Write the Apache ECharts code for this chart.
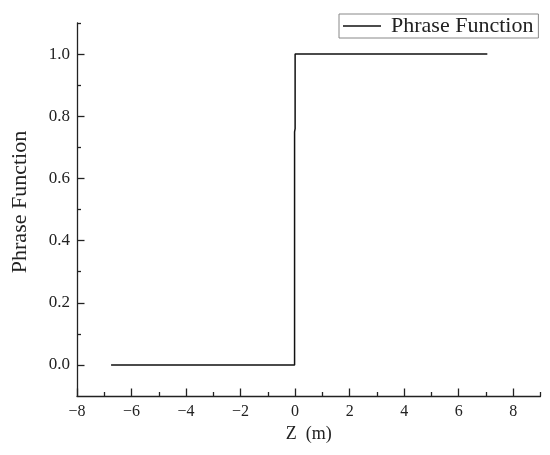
<!DOCTYPE html>
<html><head><meta charset="utf-8">
<script src="https://cdn.jsdelivr.net/npm/echarts@6/dist/echarts.min.js"></script>
<style>html,body{margin:0;padding:0;background:#fff}#c{width:550px;height:455px}</style>
</head><body><div id="c"></div>
<script>
// Data
const zValues = [-6.75, -0.02, -0.02, 0, 0, 7.05];
const phaseValues = [0, 0, 0.75, 0.76, 1, 1];
const seriesName = 'Phrase Function';
// Tick positions / labels
const xMajorTicks = [-8, -6, -4, -2, 0, 2, 4, 6, 8];
const xMinorTicks = [-7, -5, -3, -1, 1, 3, 5, 7, 9];
const yMajorTicks = [0, 0.2, 0.4, 0.6, 0.8, 1.0];
const yMinorTicks = [0.1, 0.3, 0.5, 0.7, 0.9, 1.1];

const chart = echarts.init(document.getElementById('c'));
const axisColor = '#222';
const txtColor = '#222';
const font = 'Liberation Serif';
const baseX = {type: 'value', min: -8, max: 9, position: 'bottom', splitLine: {show: false}};
const baseY = {type: 'value', min: -0.1, max: 1.1, position: 'left', splitLine: {show: false}};
chart.setOption({
  animation: false,
  backgroundColor: '#fff',
  grid: {left: 77, right: 9.5, top: 23, bottom: 59, containLabel: false},
  legend: {
    left: 339, top: 14,
    padding: [1, 5, 1, 4],
    borderColor: '#888', borderWidth: 1, borderRadius: 0,
    itemWidth: 38, itemHeight: 1.6, icon: 'rect',
    formatter: n => '{t|' + n + '}',
    textStyle: {fontFamily: font, fontSize: 22, color: txtColor,
      rich: {t: {fontFamily: font, fontSize: 22, color: txtColor, padding: [0, 0, 0, 5]}}},
    data: [seriesName]
  },
  xAxis: [
    Object.assign({}, baseX, {
      name: 'Z  (m)', nameLocation: 'middle', nameGap: 27,
      nameTextStyle: {fontFamily: font, fontSize: 18, color: txtColor},
      axisLine: {show: true, onZero: false, lineStyle: {color: axisColor, width: 1.3}},
      axisTick: {show: true, inside: true, length: 7.5, customValues: xMajorTicks, lineStyle: {color: axisColor, width: 1.3}},
      axisLabel: {show: true, margin: 8, customValues: xMajorTicks, fontFamily: font, fontSize: 16, color: txtColor,
        formatter: v => (v < 0 ? '\u2212' + Math.abs(v) : String(v))}
    }),
    Object.assign({}, baseX, {
      axisLine: {show: false, onZero: false},
      axisTick: {show: true, inside: true, length: 4, customValues: xMinorTicks, lineStyle: {color: axisColor, width: 1.3}},
      axisLabel: {show: false}
    })
  ],
  yAxis: [
    Object.assign({}, baseY, {
      name: 'Phrase Function', nameLocation: 'middle', nameGap: 46,
      nameTextStyle: {fontFamily: font, fontSize: 22, color: txtColor, padding: [0, 0, 0, 15]},
      axisLine: {show: true, onZero: false, lineStyle: {color: axisColor, width: 1.3}},
      axisTick: {show: true, inside: true, length: 7.5, customValues: yMajorTicks, lineStyle: {color: axisColor, width: 1.3}},
      axisLabel: {show: true, margin: 7, customValues: yMajorTicks, fontFamily: font, fontSize: 17, color: txtColor,
        formatter: v => v.toFixed(1)}
    }),
    Object.assign({}, baseY, {
      axisLine: {show: false, onZero: false},
      axisTick: {show: true, inside: true, length: 4, customValues: yMinorTicks, lineStyle: {color: axisColor, width: 1.3}},
      axisLabel: {show: false}
    })
  ],
  series: [{
    name: seriesName, type: 'line', xAxisIndex: 0, yAxisIndex: 0,
    data: zValues.map((z, i) => [z, phaseValues[i]]),
    symbol: 'none', color: '#111',
    lineStyle: {color: '#111', width: 1.5}
  }]
});
</script></body></html>
